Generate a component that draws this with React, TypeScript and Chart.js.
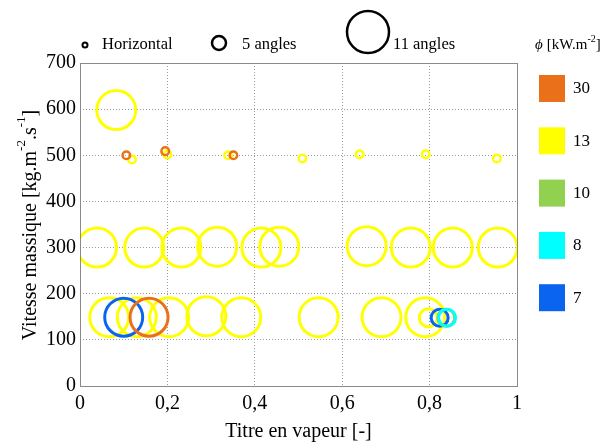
import React, { useEffect, useRef } from "react";
import { Chart, registerables } from "chart.js";

Chart.register(...registerables);

// ---- data ----
const xTicks = [0, 0.2, 0.4, 0.6, 0.8, 1];
const yTicks = [0, 100, 200, 300, 400, 500, 600, 700];

// Horizontal (small markers)
const horizontal30 = [
  { x: 0.106, y: 500 },
  { x: 0.195, y: 509 },
  { x: 0.351, y: 500 },
];
const horizontal13 = [
  { x: 0.119, y: 491 },
  { x: 0.2, y: 502 },
  { x: 0.339, y: 500 },
  { x: 0.509, y: 493 },
  { x: 0.64, y: 502 },
  { x: 0.791, y: 502 },
  { x: 0.954, y: 493 },
];
// 5 angles (medium markers)
const fiveAngles13 = [{ x: 0.797, y: 148 }];
const fiveAngles10 = [{ x: 0.838, y: 148 }];
const fiveAngles7 = [{ x: 0.823, y: 148 }];
const fiveAngles8 = [{ x: 0.84, y: 148 }];
// 11 angles (large markers)
const elevenAngles13 = [
  { x: 0.083, y: 598 },
  { x: 0.039, y: 300 },
  { x: 0.147, y: 300 },
  { x: 0.232, y: 300 },
  { x: 0.314, y: 302 },
  { x: 0.415, y: 300 },
  { x: 0.456, y: 302 },
  { x: 0.656, y: 303 },
  { x: 0.757, y: 300 },
  { x: 0.853, y: 300 },
  { x: 0.956, y: 300 },
  { x: 0.067, y: 149 },
  { x: 0.13, y: 149 },
  { x: 0.204, y: 149 },
  { x: 0.289, y: 151 },
  { x: 0.369, y: 149 },
  { x: 0.546, y: 149 },
  { x: 0.69, y: 149 },
  { x: 0.79, y: 149 },
];
const elevenAngles7 = [{ x: 0.1, y: 149 }];
const elevenAngles30 = [{ x: 0.158, y: 149 }];

const fluxLabels = ["30", "13", "10", "8", "7"];
const fluxColors = ["#EA7119", "#FFFF00", "#92D050", "#00FFFF", "#0A64F0"];
const sizeLabels = ["Horizontal", "5 angles", "11 angles"];

const C30 = fluxColors[0];
const C13 = fluxColors[1];
const C10 = fluxColors[2];
const C8 = fluxColors[3];
const C7 = fluxColors[4];

const SERIF = "'Liberation Serif', 'DejaVu Serif', serif";

function ds(data: any[], color: string, radius: number, bw: number, order: number) {
  return {
    data,
    borderColor: color,
    backgroundColor: "rgba(0,0,0,0)",
    pointRadius: radius,
    pointHoverRadius: radius,
    pointBorderWidth: bw,
    borderWidth: bw,
    showLine: false,
    order,
  };
}

const decorPlugin = {
  id: "decor",
  afterDraw(chart: any) {
    const ctx = chart.ctx;
    const a = chart.chartArea;
    ctx.save();
    // box
    ctx.strokeStyle = "#8a8a8a";
    ctx.lineWidth = 1;
    ctx.strokeRect(a.left + 0.5, a.top + 0.5, a.right - a.left, a.bottom - a.top);

    // top size legend
    ctx.strokeStyle = "#000";
    ctx.fillStyle = "#000";
    ctx.font = `16.5px ${SERIF}`;
    ctx.textBaseline = "alphabetic";
    ctx.textAlign = "left";
    ctx.lineWidth = 2;
    ctx.beginPath();
    ctx.arc(85, 45, 2.5, 0, Math.PI * 2);
    ctx.stroke();
    ctx.fillText(sizeLabels[0], 102, 49);
    ctx.lineWidth = 2.5;
    ctx.beginPath();
    ctx.arc(219, 43, 7, 0, Math.PI * 2);
    ctx.stroke();
    ctx.fillText(sizeLabels[1], 242, 49);
    ctx.lineWidth = 2.5;
    ctx.beginPath();
    ctx.arc(368, 32, 21, 0, Math.PI * 2);
    ctx.stroke();
    ctx.fillText(sizeLabels[2], 393, 49);

    // right colour legend
    ctx.font = `italic 15px ${SERIF}`;
    ctx.fillText("\u03D5", 535, 49);
    ctx.font = `15px ${SERIF}`;
    ctx.fillText(" [kW.m", 543, 49);
    const w1 = ctx.measureText(" [kW.m").width;
    ctx.font = `10px ${SERIF}`;
    ctx.fillText("-2", 543 + w1, 42);
    const w2 = ctx.measureText("-2").width;
    ctx.font = `15px ${SERIF}`;
    ctx.fillText("]", 543 + w1 + w2, 49);

    ctx.font = `17px ${SERIF}`;
    for (let i = 0; i < fluxLabels.length; i++) {
      const y = 75 + i * 52.3;
      ctx.fillStyle = fluxColors[i];
      ctx.fillRect(539, y, 26, 27);
      ctx.fillStyle = "#000";
      ctx.textBaseline = "middle";
      ctx.fillText(fluxLabels[i], 573, y + 14);
      ctx.textBaseline = "alphabetic";
    }

    // y axis title with superscripts
    ctx.save();
    ctx.translate(31, 225);
    ctx.rotate(-Math.PI / 2);
    ctx.fillStyle = "#000";
    ctx.textBaseline = "middle";
    const parts: [string, boolean][] = [
      ["Vitesse massique [kg.m", false],
      ["-2", true],
      [".s", false],
      ["-1", true],
      ["]", false],
    ];
    let total = 0;
    for (const [t, sup] of parts) {
      ctx.font = sup ? `13px ${SERIF}` : `20px ${SERIF}`;
      total += ctx.measureText(t).width;
    }
    let x = -total / 2;
    ctx.textAlign = "left";
    for (const [t, sup] of parts) {
      ctx.font = sup ? `13px ${SERIF}` : `20px ${SERIF}`;
      ctx.fillText(t, x, sup ? -9 : 0);
      x += ctx.measureText(t).width;
    }
    ctx.restore();
    ctx.restore();
  },
};

export default function App() {
  const ref = useRef<HTMLCanvasElement>(null);
  useEffect(() => {
    if (!ref.current) return;
    const chart = new Chart(ref.current, {
      type: "scatter",
      data: {
        datasets: [
          ds(elevenAngles13, C13, 19.5, 3, 10),
          ds(horizontal13, C13, 3.8, 2.5, 9),
          ds(fiveAngles13, C13, 9, 3, 9),
          ds(elevenAngles7, C7, 19, 3, 5),
          ds(elevenAngles30, C30, 19, 3, 4),
          ds(horizontal30, C30, 3.8, 2.5, 4),
          ds(fiveAngles7, C7, 8.5, 3, 6),
          ds(fiveAngles10, C10, 8.5, 3, 5),
          ds(fiveAngles8, C8, 8.5, 3, 4),
        ] as any,
      },
      plugins: [decorPlugin],
      options: {
        animation: false,
        responsive: false,
        maintainAspectRatio: false,
        layout: { padding: { top: 63, right: 90, left: 0, bottom: 0 } },
        plugins: {
          legend: { display: false },
          tooltip: { enabled: false },
        },
        scales: {
          x: {
            type: "linear",
            min: 0,
            max: 1,
            afterFit: (s: any) => {
              s.height = 58;
            },
            afterBuildTicks: (s: any) => {
              s.ticks = xTicks.map((v) => ({ value: v }));
            },
            grid: {
              color: "#9a9a9a",
              lineWidth: 1,
              drawTicks: false,
            },
            border: { display: false, dash: [1, 2] },
            ticks: {
              padding: 6,
              color: "#000",
              font: { family: SERIF, size: 20 },
              callback: (v: any) => String(v).replace(".", ","),
            },
            title: {
              display: true,
              text: "Titre en vapeur [-]",
              color: "#000",
              font: { family: SERIF, size: 20 },
              padding: { top: 0, bottom: 0 },
            },
          },
          y: {
            type: "linear",
            min: 0,
            max: 700,
            afterFit: (s: any) => {
              s.width = 80;
            },
            afterBuildTicks: (s: any) => {
              s.ticks = yTicks.map((v) => ({ value: v }));
            },
            grid: {
              color: "#9a9a9a",
              lineWidth: 1,
              drawTicks: false,
            },
            border: { display: false, dash: [1, 2] },
            ticks: {
              padding: 4,
              color: "#000",
              font: { family: SERIF, size: 20 },
            },
          },
        },
      },
    });
    return () => chart.destroy();
  }, []);
  return (
    <div style={{ position: "fixed", left: 0, top: 0, width: 607, height: 444, background: "#fff" }}>
      <canvas ref={ref} width={607} height={444} style={{ width: 607, height: 444 }} />
    </div>
  );
}
